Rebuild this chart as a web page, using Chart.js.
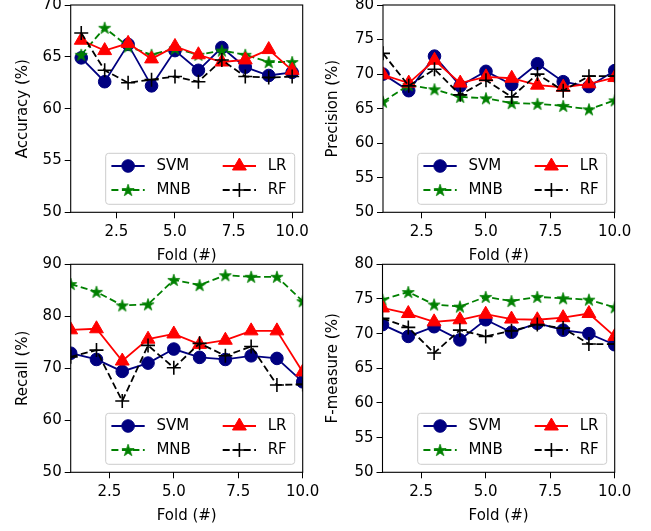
<!DOCTYPE html>
<html>
<head>
<meta charset="utf-8">
<title>Fold results</title>
<script src="https://cdn.jsdelivr.net/npm/chart.js@4.4.0/dist/chart.umd.min.js"></script>
<style>
    html, body { margin: 0; padding: 0; background: #ffffff; }
    #page { position: relative; width: 651px; height: 531px; overflow: hidden; background: #ffffff; }
    canvas { position: absolute; }
</style>
</head>
<body>
<div id="page">
    <canvas id="acc-chart"></canvas>
    <canvas id="prec-chart"></canvas>
    <canvas id="rec-chart"></canvas>
    <canvas id="f1-chart"></canvas>
</div>
<script>
// Folds on the x axis
const folds = [1, 2, 3, 4, 5, 6, 7, 8, 9, 10];
const xTicks = [2.5, 5, 7.5, 10];

// Accuracy (%)
const accSVM = [64.9, 62.6, 66.2, 62.2, 65.6, 63.7, 65.9, 64.0, 63.2, 63.5];
const accMNB = [65.2, 67.8, 66.0, 65.2, 65.8, 65.2, 65.6, 65.2, 64.5, 64.5];
const accLR  = [66.6, 65.6, 66.3, 64.8, 66.0, 65.2, 64.5, 64.7, 65.7, 63.7];
const accRF  = [67.3, 63.7, 62.5, 62.8, 63.1, 62.6, 64.7, 63.1, 63.0, 63.1];
const accTicks = [50, 55, 60, 65, 70];

// Precision (%)
const precSVM = [70.0, 67.6, 72.6, 68.3, 70.4, 68.5, 71.5, 68.9, 68.2, 70.5];
const precMNB = [66.0, 68.4, 67.8, 66.7, 66.5, 65.8, 65.7, 65.4, 64.9, 66.2];
const precLR  = [69.9, 68.7, 72.0, 68.7, 69.6, 69.4, 68.4, 68.1, 68.6, 69.5];
const precRF  = [73.0, 68.3, 70.7, 67.0, 69.1, 66.7, 70.0, 67.6, 69.7, 69.7];
const precTicks = [50, 55, 60, 65, 70, 75, 80];

// Recall (%)
const recSVM = [72.9, 71.7, 69.4, 71.0, 73.7, 72.1, 71.7, 72.4, 71.9, 67.4];
const recMNB = [86.2, 84.7, 82.1, 82.3, 87.0, 86.0, 87.9, 87.6, 87.6, 82.9];
const recLR  = [77.4, 77.6, 71.4, 75.6, 76.6, 74.6, 75.4, 77.2, 77.2, 69.3];
const recRF  = [72.2, 73.5, 63.7, 74.4, 70.1, 74.8, 72.4, 74.2, 66.8, 66.9];
const recTicks = [50, 60, 70, 80, 90];

// F-measure (%)
const f1SVM = [71.3, 69.6, 71.0, 69.1, 72.0, 70.2, 71.5, 70.5, 70.0, 68.4];
const f1MNB = [74.9, 76.0, 74.2, 73.9, 75.3, 74.7, 75.3, 75.1, 74.9, 73.8];
const f1LR  = [73.7, 72.9, 71.7, 72.0, 72.8, 72.1, 72.0, 72.3, 72.9, 69.6];
const f1RF  = [72.2, 70.9, 67.2, 70.5, 69.6, 70.4, 71.3, 70.8, 68.5, 68.5];
const f1Ticks = [50, 55, 60, 65, 70, 75, 80];

const FONT = 'DejaVu Sans';
Chart.defaults.font.family = FONT;
Chart.defaults.font.size = 15;
Chart.defaults.color = '#000000';

// matplotlib style filled star marker
function makeStar(color, r) {
    const size = Math.ceil(r * 2 + 3);
    const c = document.createElement('canvas');
    c.width = size;
    c.height = size;
    const g = c.getContext('2d');
    const cx = size / 2, cy = size / 2 + 0.6;
    g.beginPath();
    for (let i = 0; i < 10; i++) {
        const rr = i % 2 ? r * 0.382 : r;
        const a = -Math.PI / 2 + i * Math.PI / 5;
        const px = cx + Math.cos(a) * rr;
        const py = cy + Math.sin(a) * rr;
        if (i === 0) g.moveTo(px, py); else g.lineTo(px, py);
    }
    g.closePath();
    g.fillStyle = color;
    g.fill();
    g.strokeStyle = color;
    g.lineWidth = 0.8;
    g.stroke();
    return c;
}

const starMarker = makeStar('#008000', 6.4);

function toPoints(values) {
    return folds.map((f, i) => ({ x: f, y: values[i] }));
}

function makeDatasets(svm, mnb, lr, rf) {
    return [
        {
            label: 'SVM', data: toPoints(svm), order: 4,
            borderColor: '#000080', backgroundColor: '#000080', borderWidth: 1.8,
            pointStyle: 'circle', pointRadius: 6.3, pointBorderWidth: 1,
            pointBackgroundColor: '#000080', pointBorderColor: '#000080'
        },
        {
            label: 'MNB', data: toPoints(mnb), order: 3,
            borderColor: '#008000', backgroundColor: '#008000', borderWidth: 1.8,
            borderDash: [7, 3.5],
            pointStyle: starMarker, pointRadius: 6.4, pointBorderWidth: 0,
            pointBackgroundColor: '#008000', pointBorderColor: '#008000'
        },
        {
            label: 'LR', data: toPoints(lr), order: 2,
            borderColor: '#ff0000', backgroundColor: '#ff0000', borderWidth: 1.8,
            pointStyle: 'triangle', pointRadius: 8, pointBorderWidth: 1,
            pointBackgroundColor: '#ff0000', pointBorderColor: '#ff0000'
        },
        {
            label: 'RF', data: toPoints(rf), order: 1,
            borderColor: '#000000', backgroundColor: '#000000', borderWidth: 1.8,
            borderDash: [7, 3.5],
            pointStyle: 'cross', pointRadius: 7, pointBorderWidth: 1.6,
            pointBackgroundColor: '#000000', pointBorderColor: '#000000'
        }
    ];
}

// box around the plot + legend in the lower right corner
const framePlugin = {
    id: 'frameAndLegend',
    afterDatasetsDraw(chart) {
        const ctx = chart.ctx;
        const a = chart.chartArea;
        ctx.save();
        ctx.strokeStyle = '#000000';
        ctx.lineWidth = 1.1;
        ctx.setLineDash([]);
        ctx.strokeRect(a.left, a.top, a.right - a.left, a.bottom - a.top);

        // legend
        const bw = 189, bh = 51;
        const bx = a.right - 8 - bw;
        const by = a.bottom - 8 - bh;
        ctx.beginPath();
        ctx.roundRect(bx, by, bw, bh, 3);
        ctx.fillStyle = 'rgba(255,255,255,0.8)';
        ctx.fill();
        ctx.strokeStyle = '#cccccc';
        ctx.lineWidth = 1;
        ctx.stroke();

        chart.data.datasets.forEach((ds, i) => {
            const col = i < 2 ? 0 : 1;
            const row = i % 2;
            const x0 = bx + (col ? 117 : 5.7);
            const y = by + 12.7 + row * 24;
            ctx.beginPath();
            ctx.setLineDash(ds.borderDash || []);
            ctx.strokeStyle = ds.borderColor;
            ctx.lineWidth = ds.borderWidth;
            ctx.moveTo(x0, y);
            ctx.lineTo(x0 + 33.3, y);
            ctx.stroke();
            ctx.setLineDash([]);
            ctx.fillStyle = ds.pointBackgroundColor;
            ctx.strokeStyle = ds.pointBorderColor;
            ctx.lineWidth = ds.pointBorderWidth;
            Chart.helpers.drawPoint(ctx, {
                pointStyle: ds.pointStyle,
                radius: ds.pointRadius,
                borderWidth: ds.pointBorderWidth,
                rotation: 0
            }, x0 + 16.7, y);
            ctx.fillStyle = '#000000';
            ctx.font = '15px "' + FONT + '"';
            ctx.textAlign = 'left';
            ctx.textBaseline = 'middle';
            ctx.fillText(ds.label, x0 + 45, y + 0.5);
        });
        ctx.restore();
    }
};

function makeChart(id, box, area, yTitle, yRange, yTicks, xRange, datasets) {
    const canvas = document.getElementById(id);
    canvas.width = box.width;
    canvas.height = box.height;
    canvas.style.left = box.left + 'px';
    canvas.style.top = box.top + 'px';

    const yW = area.l - box.left;
    const xH = 54;

    return new Chart(canvas.getContext('2d'), {
        type: 'line',
        data: { datasets: datasets },
        plugins: [framePlugin],
        options: {
            responsive: false,
            animation: false,
            devicePixelRatio: 1,
            clip: 0,
            layout: {
                padding: {
                    left: 0,
                    top: area.t - box.top,
                    right: box.left + box.width - area.r,
                    bottom: box.top + box.height - area.b - xH
                }
            },
            plugins: {
                legend: { display: false },
                tooltip: { enabled: false }
            },
            elements: {
                line: { tension: 0, fill: false }
            },
            scales: {
                x: {
                    type: 'linear',
                    min: xRange[0],
                    max: xRange[1],
                    afterFit: s => { s.height = xH; },
                    afterBuildTicks: s => { s.ticks = xTicks.map(v => ({ value: v })); },
                    ticks: {
                        autoSkip: false,
                        maxRotation: 0,
                        padding: 5,
                        color: '#000000',
                        font: { size: 15 },
                        callback: v => v.toFixed(1)
                    },
                    grid: {
                        display: true,
                        drawOnChartArea: false,
                        drawTicks: true,
                        tickLength: 6,
                        color: '#000000',
                        lineWidth: 1
                    },
                    border: { display: false },
                    title: {
                        display: true,
                        text: 'Fold (#)',
                        color: '#000000',
                        font: { size: 15 },
                        padding: { top: 0, bottom: 1.5 }
                    }
                },
                y: {
                    type: 'linear',
                    min: yRange[0],
                    max: yRange[1],
                    afterFit: s => { s.width = yW; },
                    afterBuildTicks: s => { s.ticks = yTicks.map(v => ({ value: v })); },
                    ticks: {
                        padding: 3,
                        color: '#000000',
                        font: { size: 15 },
                        callback: v => String(v)
                    },
                    grid: {
                        display: true,
                        drawOnChartArea: false,
                        drawTicks: true,
                        tickLength: 6,
                        color: '#000000',
                        lineWidth: 1
                    },
                    border: { display: false },
                    title: {
                        display: true,
                        text: yTitle,
                        color: '#000000',
                        font: { size: 15 },
                        padding: { top: 14.3, bottom: 0 }
                    }
                }
            }
        }
    });
}

makeChart('acc-chart',
    { left: 0, top: -20, width: 330, height: 290 },
    { l: 70.7, t: 5, r: 302.7, b: 212.3 },
    'Accuracy (%)', [50, 70], accTicks, [0.55, 10.45],
    makeDatasets(accSVM, accMNB, accLR, accRF));

makeChart('prec-chart',
    { left: 310, top: -20, width: 341, height: 290 },
    { l: 383, t: 5, r: 614.7, b: 212.3 },
    'Precision (%)', [50, 80], precTicks, [1, 10],
    makeDatasets(precSVM, precMNB, precLR, precRF));

makeChart('rec-chart',
    { left: 0, top: 240, width: 330, height: 291 },
    { l: 70.7, t: 264.3, r: 302.7, b: 472.3 },
    'Recall (%)', [50, 90], recTicks, [1, 10],
    makeDatasets(recSVM, recMNB, recLR, recRF));

makeChart('f1-chart',
    { left: 310, top: 240, width: 341, height: 291 },
    { l: 382.5, t: 264.3, r: 614.7, b: 472.3 },
    'F-measure (%)', [50, 80], f1Ticks, [1, 10],
    makeDatasets(f1SVM, f1MNB, f1LR, f1RF));
</script>
</body>
</html>
